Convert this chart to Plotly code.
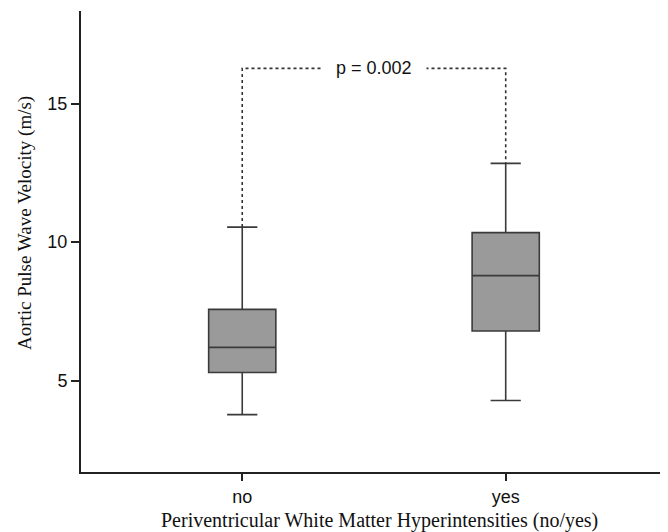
import plotly.graph_objects as go

# ---- data ----
categories = ["no", "yes"]
positions = [0, 1]
lower_whisker = [3.77, 4.28]
q1_vals = [5.29, 6.79]
median_vals = [6.20, 8.79]
q3_vals = [7.57, 10.34]
upper_whisker = [10.54, 12.84]
p_label = "p = 0.002"
bracket_y = 16.27
y_ticks = [5, 10, 15]

fig = go.Figure()

fig.add_trace(go.Box(
    x=positions,
    q1=q1_vals, median=median_vals, q3=q3_vals,
    lowerfence=lower_whisker, upperfence=upper_whisker,
    width=0.255,
    whiskerwidth=0.45,
    fillcolor="#9a9a9a",
    line=dict(color="#3a3a3a", width=1.6),
    boxpoints=False,
    hoverinfo="skip",
    showlegend=False,
))

# significance bracket (dotted)
fig.add_trace(go.Scatter(
    x=[positions[0], positions[0], positions[1], positions[1]],
    y=[upper_whisker[0], bracket_y, bracket_y, upper_whisker[1]],
    mode="lines",
    line=dict(color="#333333", width=1.6, dash="dot"),
    hoverinfo="skip",
    showlegend=False,
))

fig.add_annotation(
    x=(positions[0] + positions[1]) / 2, y=bracket_y,
    xref="x", yref="y",
    text=p_label, showarrow=False,
    font=dict(family="Liberation Sans, Arial", size=18, color="#111111"),
    bgcolor="white", borderpad=14,
)

# axis titles
fig.add_annotation(
    x=0, y=0.54, xref="paper", yref="paper",
    xshift=-56, xanchor="center", yanchor="middle",
    text="Aortic Pulse Wave Velocity (m/s)", textangle=-90, showarrow=False,
    font=dict(family="Liberation Serif, Times New Roman", size=19, color="#111111"),
)
fig.add_annotation(
    x=0.5, y=0, xref="paper", yref="paper",
    yshift=-48, xanchor="center", yanchor="middle", xshift=5,
    text="Periventricular White Matter Hyperintensities (no/yes)", showarrow=False,
    font=dict(family="Liberation Serif, Times New Roman", size=20, color="#111111"),
)

# page body has an 8px default margin, so the figure is sized to fit the window
fig.update_layout(
    width=660, height=524,
    margin=dict(l=73, r=0, t=3, b=60),
    plot_bgcolor="white", paper_bgcolor="white",
    xaxis=dict(
        range=[-0.612, 1.616],
        tickvals=positions, ticktext=categories,
        ticks="outside", ticklen=7, tickwidth=1.6, tickcolor="#222222",
        showline=True, linecolor="#222222", linewidth=2,
        showgrid=False, zeroline=False,
        tickfont=dict(family="Liberation Sans, Arial", size=18, color="#111111"),
    ),
    yaxis=dict(
        range=[1.70, 18.34],
        tickvals=y_ticks,
        ticks="outside", ticklen=8, tickwidth=1.6, tickcolor="#222222",
        showline=True, linecolor="#222222", linewidth=2,
        showgrid=False, zeroline=False,
        tickfont=dict(family="Liberation Sans, Arial", size=18, color="#111111"),
    ),
)

fig.write_html("out.html")
